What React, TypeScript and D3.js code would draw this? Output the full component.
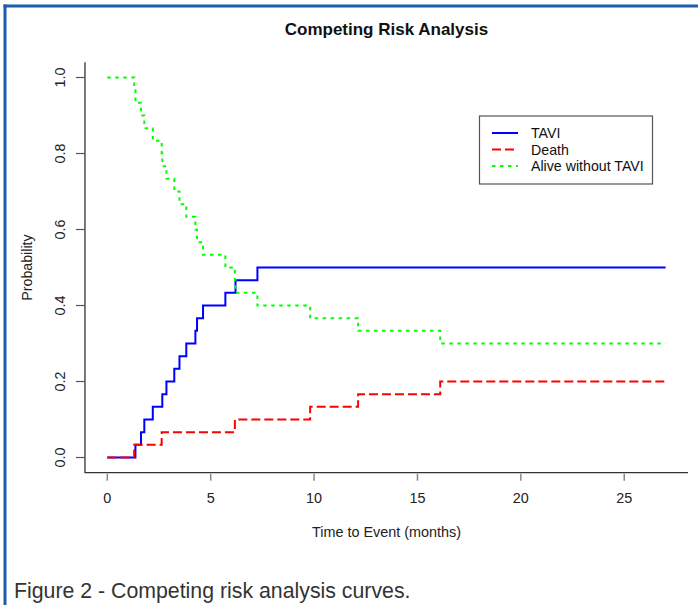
import React from "react";
import * as d3 from "d3";

// ---- data ----
const taviTimes = [0, 1.36, 1.63, 1.79, 2.2, 2.66, 2.86, 3.24, 3.49, 3.82, 4.26, 4.34, 4.63, 5.71, 6.2, 7.26, 27];
const taviProb = [0, 0.0333, 0.0667, 0.1, 0.1333, 0.1667, 0.2, 0.2333, 0.2667, 0.3, 0.3333, 0.3667, 0.4, 0.4333, 0.4667, 0.5, 0.5];

const deathTimes = [0, 1.3, 2.63, 6.17, 9.81, 12.13, 16.1, 27];
const deathProb = [0, 0.0333, 0.0667, 0.1, 0.1333, 0.1667, 0.2, 0.2];

const aliveTimes = [0, 1.3, 1.36, 1.63, 1.79, 2.2, 2.63, 2.66, 2.86, 3.24, 3.49, 3.82, 4.26, 4.34, 4.63, 5.71, 6.17, 6.2, 7.26, 9.81, 12.13, 16.1, 27];
const aliveProb = [1, 0.9667, 0.9333, 0.9, 0.8667, 0.8333, 0.8, 0.7667, 0.7333, 0.7, 0.6667, 0.6333, 0.6, 0.5667, 0.5333, 0.5, 0.4667, 0.4333, 0.4, 0.3667, 0.3333, 0.3, 0.3];

const xTicks = [0, 5, 10, 15, 20, 25];
const yTicks = [0, 0.2, 0.4, 0.6, 0.8, 1.0];

const seriesNames = ["TAVI", "Death", "Alive without TAVI"];
const seriesColors = ["#0000ff", "#ff0000", "#00ff00"];
const seriesDash = [null, "9 4", "3.5 4.5"];

const W = 698;
const H = 605;
const FONT = "'Liberation Sans', Arial, Helvetica, sans-serif";

export default function App() {
  const x = d3.scaleLinear().domain([0, 27]).range([107.3, 665.6]);
  const y = d3.scaleLinear().domain([0, 1]).range([457.5, 77.5]);

  const left = x(-1.08);
  const right = x(28.08);
  const top = y(1.04);
  const bottom = y(-0.04);

  const line = d3
    .line<[number, number]>()
    .x((d) => x(d[0]))
    .y((d) => y(d[1]))
    .curve(d3.curveStepAfter);

  const series = [
    taviTimes.map((t, i) => [t, taviProb[i]] as [number, number]),
    deathTimes.map((t, i) => [t, deathProb[i]] as [number, number]),
    aliveTimes.map((t, i) => [t, aliveProb[i]] as [number, number]),
  ];

  const legX = 479.5;
  const legY = 116;
  const legRows = [133, 149.5, 166];

  return (
    <svg
      width={W}
      height={H}
      viewBox={`0 0 ${W} ${H}`}
      style={{ position: "absolute", left: 0, top: 0, background: "#fff" }}
      fontFamily={FONT}
    >
      <rect x={0} y={0} width={W} height={H} fill="#fff" />
      {/* frame */}
      <line x1={3.5} y1={6} x2={W} y2={6} stroke="#1b5fae" strokeWidth={3} />
      <line x1={5} y1={4.5} x2={5} y2={H} stroke="#1b5fae" strokeWidth={3} />

      {/* title */}
      <text x={(left + right) / 2} y={35} textAnchor="middle" fontSize={17} fontWeight="bold" fill="#111">
        Competing Risk Analysis
      </text>

      {/* axes (L box) */}
      <path d={`M${left},${top} V${bottom} H${right}`} fill="none" stroke="#333" strokeWidth={1.3} />

      {xTicks.map((t) => (
        <g key={"x" + t}>
          <line x1={x(t)} x2={x(t)} y1={bottom + 1} y2={bottom + 8} stroke="#888" strokeWidth={1.5} />
          <text x={x(t)} y={498} textAnchor="middle" dominantBaseline="central" fontSize={14.4} fill="#222">
            {t}
          </text>
        </g>
      ))}
      {yTicks.map((t) => (
        <g key={"y" + t}>
          <line x1={left - 9} x2={left} y1={y(t)} y2={y(t)} stroke="#555" strokeWidth={1.2} />
          <text
            transform={`translate(60,${y(t)}) rotate(-90)`}
            textAnchor="middle"
            dominantBaseline="central"
            fontSize={14.4}
            fill="#222"
          >
            {t.toFixed(1)}
          </text>
        </g>
      ))}

      <text x={(left + right) / 2} y={532} textAnchor="middle" dominantBaseline="central" fontSize={14.4} fill="#222">
        Time to Event (months)
      </text>
      <text
        transform={`translate(27,${(top + bottom) / 2}) rotate(-90)`}
        textAnchor="middle"
        dominantBaseline="central"
        fontSize={14.2}
        fill="#222"
      >
        Probability
      </text>

      {/* curves */}
      {series.map((s, i) => (
        <path
          key={seriesNames[i]}
          d={line(s) || ""}
          fill="none"
          stroke={seriesColors[i]}
          strokeWidth={2}
          strokeDasharray={seriesDash[i] || undefined}
        />
      ))}

      {/* legend */}
      <rect x={legX} y={legY} width={173} height={68} fill="#fff" stroke="#555" strokeWidth={1.2} />
      {seriesNames.map((n, i) => (
        <g key={"leg" + n}>
          <line
            x1={492}
            x2={518}
            y1={legRows[i]}
            y2={legRows[i]}
            stroke={seriesColors[i]}
            strokeWidth={2}
            strokeDasharray={seriesDash[i] || undefined}
          />
          <text x={531} y={legRows[i]} dominantBaseline="central" fontSize={14.2} fill="#111">
            {n}
          </text>
        </g>
      ))}

      {/* caption */}
      <text x={14} y={598} fontSize={21.3} fill="#333">
        Figure 2 - Competing risk analysis curves.
      </text>
    </svg>
  );
}
